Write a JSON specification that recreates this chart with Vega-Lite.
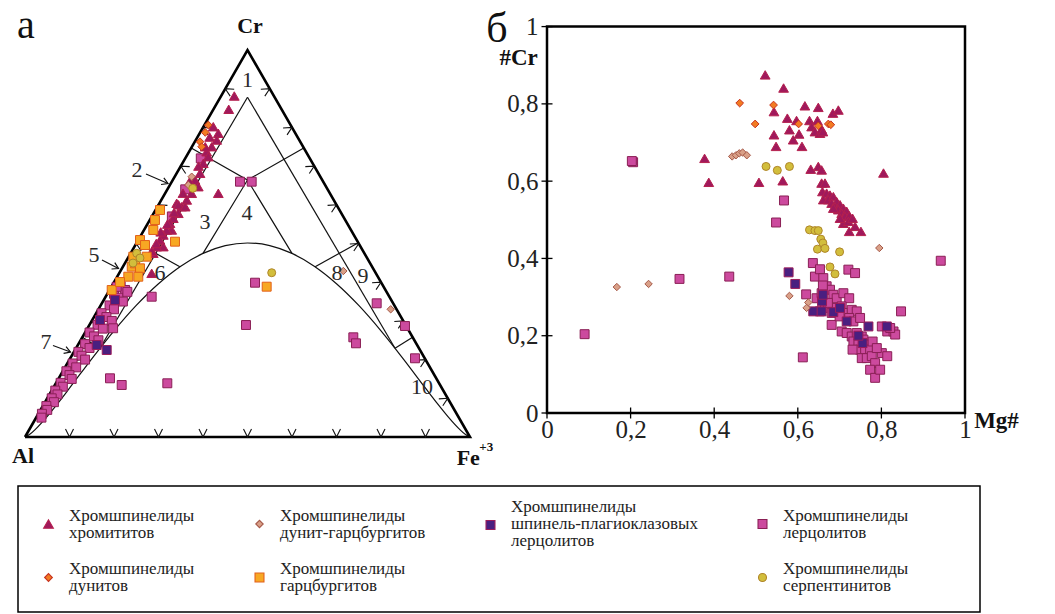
{
"$schema":"https://vega.github.io/schema/vega-lite/v6.json",
"padding":0,
"background":"white",
"bounds":"full",
"spacing":15,
"config":{"view":{"stroke":null},"font":"Liberation Serif"},
"datasets":{
"tri":[{"o":0,"x":0,"y":0},{"o":1,"x":0.5,"y":1},{"o":2,"x":1,"y":0},{"o":3,"x":0,"y":0}],
"fl":[
{"s":"a","o":0,"x":0.5,"y":0.878},{"s":"a","o":1,"x":0.1685,"y":0.2295},
{"s":"b","o":0,"x":0.5,"y":0.878},{"s":"b","o":1,"x":0.8315,"y":0.2295},
{"s":"c","o":0,"x":0.3735,"y":0.747},{"s":"c","o":1,"x":0.5,"y":0.664},{"s":"c","o":2,"x":0.6265,"y":0.747},
{"s":"d","o":0,"x":0.4,"y":0.4744},{"s":"d","o":1,"x":0.5,"y":0.664},{"s":"d","o":2,"x":0.6,"y":0.4744},
{"s":"e","o":0,"x":0.251,"y":0.502},{"s":"e","o":1,"x":0.348,"y":0.4398},
{"s":"f","o":0,"x":0.749,"y":0.502},{"s":"f","o":1,"x":0.652,"y":0.4398},
{"s":"g","o":0,"x":0.129,"y":0.258},{"s":"g","o":1,"x":0.1685,"y":0.2295},
{"s":"h","o":0,"x":0.871,"y":0.258},{"s":"h","o":1,"x":0.8315,"y":0.2295}],
"curve":[{"x":0,"y":0},{"x":0.01,"y":0.0064},{"x":0.025,"y":0.0217},{"x":0.05,"y":0.0533},{"x":0.075,"y":0.0888},{"x":0.1,"y":0.1262},{"x":0.15,"y":0.2021},{"x":0.2,"y":0.2744},{"x":0.25,"y":0.34},{"x":0.3,"y":0.3961},{"x":0.35,"y":0.4414},{"x":0.4,"y":0.4744},{"x":0.45,"y":0.4946},{"x":0.5,"y":0.5013},{"x":0.55,"y":0.4946},{"x":0.6,"y":0.4744},{"x":0.65,"y":0.4414},{"x":0.7,"y":0.3961},{"x":0.75,"y":0.34},{"x":0.8,"y":0.2744},{"x":0.85,"y":0.2021},{"x":0.9,"y":0.1262},{"x":0.925,"y":0.0888},{"x":0.95,"y":0.0533},{"x":0.975,"y":0.0217},{"x":0.99,"y":0.0064},{"x":1,"y":0}],
"tk":[
{"e":"b","x":0.1,"y":0},{"e":"b","x":0.2,"y":0},{"e":"b","x":0.3,"y":0},{"e":"b","x":0.4,"y":0},{"e":"b","x":0.5,"y":0},{"e":"b","x":0.6,"y":0},{"e":"b","x":0.7,"y":0},{"e":"b","x":0.8,"y":0},{"e":"b","x":0.9,"y":0},
{"e":"l","x":0.05,"y":0.1},{"e":"l","x":0.1,"y":0.2},{"e":"l","x":0.15,"y":0.3},{"e":"l","x":0.2,"y":0.4},{"e":"l","x":0.25,"y":0.5},{"e":"l","x":0.3,"y":0.6},{"e":"l","x":0.35,"y":0.7},{"e":"l","x":0.4,"y":0.8},{"e":"l","x":0.45,"y":0.9},
{"e":"r","x":0.95,"y":0.1},{"e":"r","x":0.9,"y":0.2},{"e":"r","x":0.85,"y":0.3},{"e":"r","x":0.8,"y":0.4},{"e":"r","x":0.75,"y":0.5},{"e":"r","x":0.7,"y":0.6},{"e":"r","x":0.65,"y":0.7},{"e":"r","x":0.6,"y":0.8},{"e":"r","x":0.55,"y":0.9}],
"ar":[
{"a":"2","o":0,"x":0.2719,"y":0.6796},{"a":"2","o":1,"x":0.3213,"y":0.655},
{"a":"5","o":0,"x":0.173,"y":0.4574},{"a":"5","o":1,"x":0.2101,"y":0.4354},
{"a":"7","o":0,"x":0.0629,"y":0.2364},{"a":"7","o":1,"x":0.1022,"y":0.2196}],
"tlab":[
{"k":"n","s":"1","x":0.5,"y":0.9225},{"k":"n","s":"2","x":0.2517,"y":0.6899},{"k":"n","s":"3","x":0.4045,"y":0.5556},{"k":"n","s":"4","x":0.4989,"y":0.5788},{"k":"n","s":"5","x":0.155,"y":0.4703},{"k":"n","s":"6","x":0.3034,"y":0.4238},{"k":"n","s":"7","x":0.0472,"y":0.2455},{"k":"n","s":"8","x":0.7011,"y":0.4238},{"k":"n","s":"9","x":0.7596,"y":0.416},{"k":"n","s":"10","x":0.8921,"y":0.1292},
{"k":"v","s":"Cr","x":0.5056,"y":1.044},{"k":"v","s":"Al","x":-0.0045,"y":-0.0672},
{"k":"f","s":"Fe","x":0.97,"y":-0.0725},{"k":"p","s":"+3","x":1.021,"y":-0.037},
{"k":"a","s":"а","x":0.0022,"y":1.031}],
"tern":[
{"t":"лерцолитов","x":0.215,"y":0.39},{"t":"лерцолитов","x":0.225,"y":0.38},{"t":"лерцолитов","x":0.2,"y":0.37},{"t":"лерцолитов","x":0.21,"y":0.36},{"t":"лерцолитов","x":0.22,"y":0.35},{"t":"лерцолитов","x":0.19,"y":0.34},{"t":"лерцолитов","x":0.2,"y":0.33},{"t":"лерцолитов","x":0.172,"y":0.32},{"t":"лерцолитов","x":0.183,"y":0.31},{"t":"лерцолитов","x":0.195,"y":0.3},{"t":"лерцолитов","x":0.163,"y":0.29},{"t":"лерцолитов","x":0.175,"y":0.28},{"t":"лерцолитов","x":0.145,"y":0.27},{"t":"лерцолитов","x":0.155,"y":0.26},{"t":"лерцолитов","x":0.165,"y":0.25},{"t":"лерцолитов","x":0.135,"y":0.24},{"t":"лерцолитов","x":0.145,"y":0.23},{"t":"лерцолитов","x":0.12,"y":0.22},{"t":"лерцолитов","x":0.127,"y":0.21},{"t":"лерцолитов","x":0.135,"y":0.2},{"t":"лерцолитов","x":0.107,"y":0.19},{"t":"лерцолитов","x":0.115,"y":0.18},{"t":"лерцолитов","x":0.093,"y":0.17},{"t":"лерцолитов","x":0.1,"y":0.16},{"t":"лерцолитов","x":0.105,"y":0.15},{"t":"лерцолитов","x":0.08,"y":0.14},{"t":"лерцолитов","x":0.085,"y":0.13},{"t":"лерцолитов","x":0.068,"y":0.12},{"t":"лерцолитов","x":0.073,"y":0.11},{"t":"лерцолитов","x":0.06,"y":0.1},{"t":"лерцолитов","x":0.065,"y":0.09},{"t":"лерцолитов","x":0.048,"y":0.08},{"t":"лерцолитов","x":0.05,"y":0.07},{"t":"лерцолитов","x":0.038,"y":0.06},{"t":"лерцолитов","x":0.037,"y":0.05},{"t":"лерцолитов","x":0.206,"y":0.388},{"t":"лерцолитов","x":0.198,"y":0.281},{"t":"лерцолитов","x":0.23,"y":0.375},
{"t":"лерцолитов","x":0.4831,"y":0.6597},{"t":"лерцолитов","x":0.5094,"y":0.6597},{"t":"лерцолитов","x":0.2847,"y":0.3625},{"t":"лерцолитов","x":0.5169,"y":0.3987},{"t":"лерцолитов","x":0.4966,"y":0.2894},{"t":"лерцолитов","x":0.191,"y":0.1517},{"t":"лерцолитов","x":0.2173,"y":0.1344},{"t":"лерцолитов","x":0.3198,"y":0.1388},{"t":"лерцолитов","x":0.7378,"y":0.2576},{"t":"лерцолитов","x":0.7438,"y":0.2421},{"t":"лерцолитов","x":0.7903,"y":0.3455},{"t":"лерцолитов","x":0.8539,"y":0.2868},{"t":"лерцолитов","x":0.8764,"y":0.2034},{"t":"лерцолитов","x":0.395,"y":0.72},{"t":"лерцолитов","x":0.36,"y":0.64},{"t":"лерцолитов","x":0.33,"y":0.57},
{"t":"шпинель-плагиоклазовых лерцолитов","x":0.1836,"y":0.2248},{"t":"шпинель-плагиоклазовых лерцолитов","x":0.1611,"y":0.2377},{"t":"шпинель-плагиоклазовых лерцолитов","x":0.1685,"y":0.3023},{"t":"шпинель-плагиоклазовых лерцолитов","x":0.2022,"y":0.354},
{"t":"хромититов","x":0.4703,"y":0.8811},{"t":"хромититов","x":0.4578,"y":0.8468},{"t":"хромититов","x":0.4344,"y":0.6297},{"t":"хромититов","x":0.4231,"y":0.8018},{"t":"хромититов","x":0.4344,"y":0.7848},{"t":"хромититов","x":0.4308,"y":0.7674},{"t":"хромититов","x":0.4196,"y":0.7501},{"t":"хромититов","x":0.4083,"y":0.7372},{"t":"хромититов","x":0.4119,"y":0.7243},{"t":"хромититов","x":0.4007,"y":0.7072},{"t":"хромититов","x":0.3933,"y":0.6814},{"t":"хромититов","x":0.382,"y":0.6641},{"t":"хромититов","x":0.3894,"y":0.6468},{"t":"хромититов","x":0.3746,"y":0.6297},{"t":"хромититов","x":0.3634,"y":0.6124},{"t":"хромититов","x":0.3521,"y":0.5951},{"t":"хромититов","x":0.3445,"y":0.578},{"t":"хромититов","x":0.3409,"y":0.6039},{"t":"хромититов","x":0.3333,"y":0.5651},{"t":"хромититов","x":0.3258,"y":0.5522},{"t":"хромититов","x":0.3297,"y":0.5349},{"t":"хромититов","x":0.3184,"y":0.5349},{"t":"хромититов","x":0.3108,"y":0.522},{"t":"хромититов","x":0.3034,"y":0.509},{"t":"хромититов","x":0.3108,"y":0.4917},{"t":"хромититов","x":0.296,"y":0.4917},{"t":"хромититов","x":0.2883,"y":0.4747},{"t":"хромититов","x":0.2847,"y":0.423},{"t":"хромититов","x":0.405,"y":0.75},{"t":"хромититов","x":0.39,"y":0.7},{"t":"хромититов","x":0.37,"y":0.66},{"t":"хромититов","x":0.355,"y":0.63},{"t":"хромититов","x":0.345,"y":0.6},{"t":"хромититов","x":0.335,"y":0.58},{"t":"хромититов","x":0.32,"y":0.55},{"t":"хромититов","x":0.305,"y":0.53},{"t":"хромититов","x":0.295,"y":0.5},{"t":"хромититов","x":0.285,"y":0.48},{"t":"хромититов","x":0.415,"y":0.775},{"t":"хромититов","x":0.36,"y":0.595},
{"t":"гарцбургитов","x":0.3034,"y":0.5866},{"t":"гарцбургитов","x":0.2921,"y":0.5607},{"t":"гарцбургитов","x":0.2883,"y":0.5349},{"t":"гарцбургитов","x":0.3371,"y":0.5047},{"t":"гарцбургитов","x":0.2584,"y":0.509},{"t":"гарцбургитов","x":0.2398,"y":0.4401},{"t":"гарцбургитов","x":0.2472,"y":0.4488},{"t":"гарцбургитов","x":0.2584,"y":0.4359},{"t":"гарцбургитов","x":0.2546,"y":0.4142},{"t":"гарцбургитов","x":0.2321,"y":0.4142},{"t":"гарцбургитов","x":0.2434,"y":0.4659},{"t":"гарцбургитов","x":0.2735,"y":0.4659},{"t":"гарцбургитов","x":0.5431,"y":0.3884},{"t":"гарцбургитов","x":0.1948,"y":0.3798},{"t":"гарцбургитов","x":0.2697,"y":0.4961},{"t":"гарцбургитов","x":0.2135,"y":0.4005},
{"t":"дунитов","x":0.4119,"y":0.8062},{"t":"дунитов","x":0.3933,"y":0.763},{"t":"дунитов","x":0.3971,"y":0.7501},{"t":"дунитов","x":0.405,"y":0.787},
{"t":"дунит-гарцбургитов","x":0.3746,"y":0.6726},{"t":"дунит-гарцбургитов","x":0.367,"y":0.6512},{"t":"дунит-гарцбургитов","x":0.7153,"y":0.4289},{"t":"дунит-гарцбургитов","x":0.8218,"y":0.33},
{"t":"серпентинитов","x":0.3769,"y":0.6426},{"t":"серпентинитов","x":0.251,"y":0.4747},{"t":"серпентинитов","x":0.2584,"y":0.4625},{"t":"серпентинитов","x":0.5544,"y":0.4245},{"t":"серпентинитов","x":0.2427,"y":0.4496}],
"scat":[
{"t":"лерцолитов","x":0.206,"y":0.649},{"t":"лерцолитов","x":0.203,"y":0.652},{"t":"лерцолитов","x":0.09,"y":0.204},{"t":"лерцолитов","x":0.317,"y":0.347},{"t":"лерцолитов","x":0.436,"y":0.353},{"t":"лерцолитов","x":0.567,"y":0.55},{"t":"лерцолитов","x":0.548,"y":0.493},{"t":"лерцолитов","x":0.942,"y":0.394},{"t":"лерцолитов","x":0.847,"y":0.263},{"t":"лерцолитов","x":0.612,"y":0.144},{"t":"лерцолитов","x":0.636,"y":0.388},{"t":"лерцолитов","x":0.641,"y":0.353},{"t":"лерцолитов","x":0.653,"y":0.372},{"t":"лерцолитов","x":0.661,"y":0.349},{"t":"лерцолитов","x":0.721,"y":0.371},{"t":"лерцолитов","x":0.737,"y":0.362},{"t":"лерцолитов","x":0.62,"y":0.307},{"t":"лерцолитов","x":0.645,"y":0.297},{"t":"лерцолитов","x":0.657,"y":0.31},{"t":"лерцолитов","x":0.669,"y":0.328},{"t":"лерцолитов","x":0.677,"y":0.319},{"t":"лерцолитов","x":0.685,"y":0.306},{"t":"лерцолитов","x":0.693,"y":0.297},{"t":"лерцолитов","x":0.709,"y":0.31},{"t":"лерцолитов","x":0.723,"y":0.297},{"t":"лерцолитов","x":0.653,"y":0.263},{"t":"лерцолитов","x":0.665,"y":0.272},{"t":"лерцолитов","x":0.681,"y":0.259},{"t":"лерцолитов","x":0.693,"y":0.272},{"t":"лерцолитов","x":0.705,"y":0.276},{"t":"лерцолитов","x":0.717,"y":0.259},{"t":"лерцолитов","x":0.729,"y":0.267},{"t":"лерцолитов","x":0.741,"y":0.263},{"t":"лерцолитов","x":0.723,"y":0.246},{"t":"лерцолитов","x":0.733,"y":0.237},{"t":"лерцолитов","x":0.749,"y":0.246},{"t":"лерцолитов","x":0.705,"y":0.211},{"t":"лерцолитов","x":0.717,"y":0.207},{"t":"лерцолитов","x":0.729,"y":0.198},{"t":"лерцолитов","x":0.741,"y":0.207},{"t":"лерцолитов","x":0.753,"y":0.198},{"t":"лерцолитов","x":0.733,"y":0.185},{"t":"лерцолитов","x":0.745,"y":0.181},{"t":"лерцолитов","x":0.757,"y":0.19},{"t":"лерцолитов","x":0.765,"y":0.177},{"t":"лерцолитов","x":0.749,"y":0.164},{"t":"лерцолитов","x":0.761,"y":0.164},{"t":"лерцолитов","x":0.773,"y":0.164},{"t":"лерцолитов","x":0.779,"y":0.185},{"t":"лерцолитов","x":0.753,"y":0.142},{"t":"лерцолитов","x":0.765,"y":0.142},{"t":"лерцолитов","x":0.777,"y":0.147},{"t":"лерцолитов","x":0.785,"y":0.129},{"t":"лерцолитов","x":0.773,"y":0.112},{"t":"лерцолитов","x":0.785,"y":0.091},{"t":"лерцолитов","x":0.797,"y":0.112},{"t":"лерцолитов","x":0.801,"y":0.155},{"t":"лерцолитов","x":0.814,"y":0.147},{"t":"лерцолитов","x":0.801,"y":0.224},{"t":"лерцолитов","x":0.814,"y":0.211},{"t":"лерцолитов","x":0.829,"y":0.211},{"t":"лерцолитов","x":0.833,"y":0.203},{"t":"лерцолитов","x":0.821,"y":0.22},{"t":"лерцолитов","x":0.789,"y":0.168},{"t":"лерцолитов","x":0.681,"y":0.228},{"t":"лерцолитов","x":0.731,"y":0.164},{"t":"лерцолитов","x":0.66,"y":0.33},{"t":"лерцолитов","x":0.672,"y":0.285},{"t":"лерцолитов","x":0.7,"y":0.25},
{"t":"шпинель-плагиоклазовых лерцолитов","x":0.578,"y":0.364},{"t":"шпинель-плагиоклазовых лерцолитов","x":0.594,"y":0.334},{"t":"шпинель-плагиоклазовых лерцолитов","x":0.637,"y":0.263},{"t":"шпинель-плагиоклазовых лерцолитов","x":0.685,"y":0.261},{"t":"шпинель-плагиоклазовых лерцолитов","x":0.658,"y":0.289},{"t":"шпинель-плагиоклазовых лерцолитов","x":0.657,"y":0.263},{"t":"шпинель-плагиоклазовых лерцолитов","x":0.717,"y":0.237},{"t":"шпинель-плагиоклазовых лерцолитов","x":0.701,"y":0.272},{"t":"шпинель-плагиоклазовых лерцолитов","x":0.769,"y":0.224},{"t":"шпинель-плагиоклазовых лерцолитов","x":0.813,"y":0.224},{"t":"шпинель-плагиоклазовых лерцолитов","x":0.755,"y":0.181},{"t":"шпинель-плагиоклазовых лерцолитов","x":0.66,"y":0.306},{"t":"шпинель-плагиоклазовых лерцолитов","x":0.745,"y":0.2},
{"t":"дунит-гарцбургитов","x":0.443,"y":0.664},{"t":"дунит-гарцбургитов","x":0.452,"y":0.667},{"t":"дунит-гарцбургитов","x":0.46,"y":0.672},{"t":"дунит-гарцбургитов","x":0.468,"y":0.674},{"t":"дунит-гарцбургитов","x":0.478,"y":0.667},{"t":"дунит-гарцбургитов","x":0.795,"y":0.427},{"t":"дунит-гарцбургитов","x":0.58,"y":0.303},{"t":"дунит-гарцбургитов","x":0.625,"y":0.286},{"t":"дунит-гарцбургитов","x":0.621,"y":0.272},{"t":"дунит-гарцбургитов","x":0.167,"y":0.326},{"t":"дунит-гарцбургитов","x":0.243,"y":0.334},
{"t":"серпентинитов","x":0.524,"y":0.638},{"t":"серпентинитов","x":0.551,"y":0.628},{"t":"серпентинитов","x":0.58,"y":0.638},{"t":"серпентинитов","x":0.628,"y":0.474},{"t":"серпентинитов","x":0.641,"y":0.472},{"t":"серпентинитов","x":0.649,"y":0.472},{"t":"серпентинитов","x":0.655,"y":0.45},{"t":"серпентинитов","x":0.66,"y":0.44},{"t":"серпентинитов","x":0.647,"y":0.424},{"t":"серпентинитов","x":0.665,"y":0.426},{"t":"серпентинитов","x":0.7,"y":0.417},{"t":"серпентинитов","x":0.677,"y":0.378},{"t":"серпентинитов","x":0.689,"y":0.36},
{"t":"хромититов","x":0.522,"y":0.875},{"t":"хромититов","x":0.566,"y":0.841},{"t":"хромититов","x":0.543,"y":0.78},{"t":"хромититов","x":0.543,"y":0.72},{"t":"хромититов","x":0.548,"y":0.69},{"t":"хромититов","x":0.575,"y":0.763},{"t":"хромититов","x":0.58,"y":0.733},{"t":"хромититов","x":0.589,"y":0.707},{"t":"хромититов","x":0.597,"y":0.757},{"t":"хромититов","x":0.603,"y":0.722},{"t":"хромититов","x":0.61,"y":0.69},{"t":"хромититов","x":0.617,"y":0.795},{"t":"хромититов","x":0.628,"y":0.757},{"t":"хромититов","x":0.649,"y":0.791},{"t":"хромититов","x":0.633,"y":0.741},{"t":"хромититов","x":0.641,"y":0.728},{"t":"хромититов","x":0.653,"y":0.724},{"t":"хромититов","x":0.684,"y":0.776},{"t":"хромититов","x":0.697,"y":0.784},{"t":"хромититов","x":0.647,"y":0.757},{"t":"хромититов","x":0.377,"y":0.659},{"t":"хромититов","x":0.387,"y":0.597},{"t":"хромититов","x":0.507,"y":0.597},{"t":"хромититов","x":0.564,"y":0.601},{"t":"хромититов","x":0.631,"y":0.631},{"t":"хромититов","x":0.649,"y":0.638},{"t":"хромититов","x":0.657,"y":0.629},{"t":"хромититов","x":0.805,"y":0.621},{"t":"хромититов","x":0.657,"y":0.595},{"t":"хромититов","x":0.665,"y":0.595},{"t":"хромититов","x":0.659,"y":0.573},{"t":"хромититов","x":0.669,"y":0.569},{"t":"хромититов","x":0.677,"y":0.564},{"t":"хромититов","x":0.661,"y":0.552},{"t":"хромититов","x":0.673,"y":0.552},{"t":"хромититов","x":0.685,"y":0.56},{"t":"хромититов","x":0.681,"y":0.543},{"t":"хромититов","x":0.693,"y":0.547},{"t":"хромититов","x":0.689,"y":0.534},{"t":"хромититов","x":0.701,"y":0.539},{"t":"хромититов","x":0.697,"y":0.526},{"t":"хромититов","x":0.709,"y":0.53},{"t":"хромититов","x":0.705,"y":0.517},{"t":"хромититов","x":0.717,"y":0.522},{"t":"хромититов","x":0.713,"y":0.509},{"t":"хромититов","x":0.723,"y":0.51},{"t":"хромититов","x":0.709,"y":0.491},{"t":"хромититов","x":0.721,"y":0.496},{"t":"хромититов","x":0.723,"y":0.47},{"t":"хромититов","x":0.737,"y":0.483},{"t":"хромититов","x":0.751,"y":0.47},{"t":"хромититов","x":0.731,"y":0.504},{"t":"хромититов","x":0.685,"y":0.53},{"t":"хромититов","x":0.701,"y":0.504},{"t":"хромититов","x":0.657,"y":0.735},{"t":"хромититов","x":0.66,"y":0.728},
{"t":"дунитов","x":0.461,"y":0.802},{"t":"дунитов","x":0.542,"y":0.797},{"t":"дунитов","x":0.498,"y":0.748},{"t":"дунитов","x":0.602,"y":0.748},{"t":"дунитов","x":0.649,"y":0.743},{"t":"дунитов","x":0.673,"y":0.748},{"t":"дунитов","x":0.679,"y":0.746}],
"tv":[{"v":0},{"v":0.2},{"v":0.4},{"v":0.6},{"v":0.8},{"v":1}],
"slab":[{"k":"b","s":"#Cr","x":-0.068,"y":0.9175},{"k":"b","s":"Mg#","x":1.0754,"y":-0.0212},{"k":"a","s":"б","x":-0.12,"y":0.96}]
},
"vconcat":[
{"hconcat":[
{
"width":547,"height":413,
"encoding":{
"x":{"field":"x","type":"quantitative","scale":{"domain":[-0.05618,1.17303],"nice":false,"zero":false},"axis":null},
"y":{"field":"y","type":"quantitative","scale":{"domain":[0.06202,1.1292],"nice":false,"zero":false},"axis":null}},
"resolve":{"scale":{"angle":"independent"}},
"layer":[
{"data":{"name":"fl"},"mark":{"type":"line","stroke":"#111","strokeWidth":1.2},"encoding":{"detail":{"field":"s"},"order":{"field":"o"}}},
{"data":{"name":"curve"},"mark":{"type":"line","stroke":"#111","strokeWidth":1.2,"interpolate":"monotone"},"encoding":{}},
{"data":{"name":"tri"},"mark":{"type":"line","stroke":"#000","strokeWidth":2.6,"strokeJoin":"miter"},"encoding":{"order":{"field":"o"}}},
{"data":{"name":"tk"},"mark":{"type":"point","shape":"M-0.5,-1L0,0L0.5,-1","filled":false,"size":256,"stroke":"#111","strokeWidth":1.1,"opacity":1},"encoding":{"angle":{"field":"e","type":"nominal","scale":{"type":"ordinal","domain":["b","l","r"],"range":[0,120,240]},"legend":null}}},
{"data":{"name":"ar"},"mark":{"type":"line","stroke":"#111","strokeWidth":1.2},"encoding":{"detail":{"field":"a"},"order":{"field":"o"}}},
{"data":{"name":"ar"},"transform":[{"filter":"datum.o == 1"}],"mark":{"type":"point","shape":"M-1,-0.6L0,0L-1,0.6","filled":false,"size":144,"stroke":"#111","strokeWidth":1.2,"opacity":1},"encoding":{"angle":{"field":"a","type":"nominal","scale":{"type":"ordinal","domain":["2","5","7"],"range":[23,27,20]},"legend":null}}},
{"data":{"name":"tern"},"mark":{"type":"point","filled":true,"opacity":1,"strokeWidth":1},"encoding":{
"color":{"field":"t","type":"nominal","scale":{"domain":["хромититов","дунит-гарцбургитов","шпинель-плагиоклазовых лерцолитов","лерцолитов","дунитов","гарцбургитов","_","серпентинитов"],"range":["#A0195C","#D9A088","#4A1F80","#CC4A9E","#F27B22","#F7A823","#ffffff","#D2BE3C"]},
"legend":{"title":null,"orient":"none","legendX":18,"legendY":485,"columns":4,"direction":"horizontal","gridAlign":"each","columnPadding":56,"rowPadding":11,"padding":22,"symbolSize":30,"symbolStrokeWidth":1.1,"symbolOpacity":1,"labelFont":"Liberation Serif","labelFontSize":17,"labelColor":"#222","labelLimit":0,"labelOffset":12,"labelExpr":"datum.label == '_' ? '' : datum.label == 'шпинель-плагиоклазовых лерцолитов' ? ['Хромшпинелиды', 'шпинель-плагиоклазовых', 'лерцолитов'] : ['Хромшпинелиды', datum.label]",
"encode":{"labels":{"update":{"lineHeight":{"value":17},"y":{"value":0}}},"symbols":{"update":{"size":{"value":32},"y":{"signal":"datum.value == 'шпинель-плагиоклазовых лерцолитов' ? 18 : 8.5"}}}}}},
"shape":{"field":"t","type":"nominal","scale":{"domain":["хромититов","дунит-гарцбургитов","шпинель-плагиоклазовых лерцолитов","лерцолитов","дунитов","гарцбургитов","_","серпентинитов"],"range":["triangle-up","diamond","square","square","diamond","square","circle","circle"]}},
"stroke":{"field":"t","type":"nominal","scale":{"domain":["хромититов","дунит-гарцбургитов","шпинель-плагиоклазовых лерцолитов","лерцолитов","дунитов","гарцбургитов","_","серпентинитов"],"range":["#B5204E","#A65A4A","#9C1C5A","#8A1F55","#C8321F","#E2601A","#ffffff","#B0862A"]}},
"size":{"field":"t","type":"nominal","scale":{"type":"ordinal","domain":["хромититов","дунит-гарцбургитов","шпинель-плагиоклазовых лерцолитов","лерцолитов","дунитов","гарцбургитов","_","серпентинитов"],"range":[95,55,80,80,60,80,10,64]},"legend":null}}},
{"data":{"name":"tlab"},"transform":[{"filter":"datum.k == 'n'"}],"mark":{"type":"text","font":"Liberation Serif","fontSize":22,"color":"#2a2a2a"},"encoding":{"text":{"field":"s"}}},
{"data":{"name":"tlab"},"transform":[{"filter":"datum.k == 'v'"}],"mark":{"type":"text","font":"Liberation Serif","fontSize":22,"fontWeight":"bold","baseline":"alphabetic","color":"#111"},"encoding":{"text":{"field":"s"}}},
{"data":{"name":"tlab"},"transform":[{"filter":"datum.k == 'f'"}],"mark":{"type":"text","font":"Liberation Serif","fontSize":22,"fontWeight":"bold","baseline":"alphabetic","align":"left","color":"#111"},"encoding":{"text":{"field":"s"}}},
{"data":{"name":"tlab"},"transform":[{"filter":"datum.k == 'p'"}],"mark":{"type":"text","font":"Liberation Serif","fontSize":13,"fontWeight":"bold","baseline":"alphabetic","align":"left","color":"#111"},"encoding":{"text":{"field":"s"}}},
{"data":{"name":"tlab"},"transform":[{"filter":"datum.k == 'a'"}],"mark":{"type":"text","font":"Liberation Serif","fontSize":40,"baseline":"alphabetic","color":"#111"},"encoding":{"text":{"field":"s"}}}
]
},
{
"width":418,"height":413,
"layer":[
{"data":{"values":[{}]},"mark":{"type":"rect","fill":"transparent","stroke":"#000","strokeWidth":2.5},"encoding":{
"x":{"datum":0,"type":"quantitative","scale":{"domain":[0,1],"nice":false,"zero":false},"axis":{"values":[0,0.2,0.4,0.6,0.8,1],"ticks":false,"tickSize":0,"domain":false,"grid":false,"title":null,"labelFont":"Liberation Serif","labelFontSize":25,"labelColor":"#222","labelPadding":4,"labelFlush":false,"labelOverlap":false,"labelExpr":"datum.value == 0 ? '0' : datum.value == 1 ? '1' : replace(format(datum.value, '.1f'), '.', ',')"}},"x2":{"datum":1},
"y":{"datum":0,"type":"quantitative","scale":{"domain":[0,1.0688],"nice":false,"zero":false},"axis":{"values":[0,0.2,0.4,0.6,0.8,1],"ticks":false,"tickSize":0,"domain":false,"grid":false,"title":null,"labelFont":"Liberation Serif","labelFontSize":25,"labelColor":"#222","labelPadding":9,"labelFlush":false,"labelOverlap":false,"labelExpr":"datum.value == 0 ? '0' : datum.value == 1 ? '1' : replace(format(datum.value, '.1f'), '.', ',')"}},"y2":{"datum":1}}},
{"data":{"name":"tv"},"mark":{"type":"tick","orient":"vertical","size":11,"thickness":1.3,"color":"#000","opacity":1},"encoding":{
"x":{"field":"v","type":"quantitative","scale":{"domain":[0,1],"nice":false,"zero":false},"axis":{"values":[0,0.2,0.4,0.6,0.8,1],"ticks":false,"tickSize":0,"domain":false,"grid":false,"title":null,"labelFont":"Liberation Serif","labelFontSize":25,"labelColor":"#222","labelPadding":4,"labelFlush":false,"labelOverlap":false,"labelExpr":"datum.value == 0 ? '0' : datum.value == 1 ? '1' : replace(format(datum.value, '.1f'), '.', ',')"}},
"y":{"datum":0,"type":"quantitative","scale":{"domain":[0,1.0688],"nice":false,"zero":false},"axis":{"values":[0,0.2,0.4,0.6,0.8,1],"ticks":false,"tickSize":0,"domain":false,"grid":false,"title":null,"labelFont":"Liberation Serif","labelFontSize":25,"labelColor":"#222","labelPadding":9,"labelFlush":false,"labelOverlap":false,"labelExpr":"datum.value == 0 ? '0' : datum.value == 1 ? '1' : replace(format(datum.value, '.1f'), '.', ',')"}}}},
{"data":{"name":"tv"},"mark":{"type":"tick","orient":"horizontal","size":11,"thickness":1.3,"color":"#000","opacity":1},"encoding":{
"y":{"field":"v","type":"quantitative","scale":{"domain":[0,1.0688],"nice":false,"zero":false},"axis":{"values":[0,0.2,0.4,0.6,0.8,1],"ticks":false,"tickSize":0,"domain":false,"grid":false,"title":null,"labelFont":"Liberation Serif","labelFontSize":25,"labelColor":"#222","labelPadding":9,"labelFlush":false,"labelOverlap":false,"labelExpr":"datum.value == 0 ? '0' : datum.value == 1 ? '1' : replace(format(datum.value, '.1f'), '.', ',')"}},
"x":{"datum":0,"type":"quantitative","scale":{"domain":[0,1],"nice":false,"zero":false},"axis":{"values":[0,0.2,0.4,0.6,0.8,1],"ticks":false,"tickSize":0,"domain":false,"grid":false,"title":null,"labelFont":"Liberation Serif","labelFontSize":25,"labelColor":"#222","labelPadding":4,"labelFlush":false,"labelOverlap":false,"labelExpr":"datum.value == 0 ? '0' : datum.value == 1 ? '1' : replace(format(datum.value, '.1f'), '.', ',')"}}}},
{"data":{"name":"scat"},"mark":{"type":"point","filled":true,"opacity":1,"strokeWidth":1},"encoding":{
"x":{"field":"x","type":"quantitative","scale":{"domain":[0,1],"nice":false,"zero":false},"axis":{"values":[0,0.2,0.4,0.6,0.8,1],"ticks":false,"tickSize":0,"domain":false,"grid":false,"title":null,"labelFont":"Liberation Serif","labelFontSize":25,"labelColor":"#222","labelPadding":4,"labelFlush":false,"labelOverlap":false,"labelExpr":"datum.value == 0 ? '0' : datum.value == 1 ? '1' : replace(format(datum.value, '.1f'), '.', ',')"}},
"y":{"field":"y","type":"quantitative","scale":{"domain":[0,1.0688],"nice":false,"zero":false},"axis":{"values":[0,0.2,0.4,0.6,0.8,1],"ticks":false,"tickSize":0,"domain":false,"grid":false,"title":null,"labelFont":"Liberation Serif","labelFontSize":25,"labelColor":"#222","labelPadding":9,"labelFlush":false,"labelOverlap":false,"labelExpr":"datum.value == 0 ? '0' : datum.value == 1 ? '1' : replace(format(datum.value, '.1f'), '.', ',')"}},
"color":{"field":"t","type":"nominal","scale":{"domain":["хромититов","дунит-гарцбургитов","шпинель-плагиоклазовых лерцолитов","лерцолитов","дунитов","гарцбургитов","_","серпентинитов"],"range":["#A0195C","#D9A088","#4A1F80","#CC4A9E","#F27B22","#F7A823","#ffffff","#D2BE3C"]},
"legend":{"title":null,"orient":"none","legendX":18,"legendY":485,"columns":4,"direction":"horizontal","gridAlign":"each","columnPadding":56,"rowPadding":11,"padding":22,"symbolSize":30,"symbolStrokeWidth":1.1,"symbolOpacity":1,"labelFont":"Liberation Serif","labelFontSize":17,"labelColor":"#222","labelLimit":0,"labelOffset":12,"labelExpr":"datum.label == '_' ? '' : datum.label == 'шпинель-плагиоклазовых лерцолитов' ? ['Хромшпинелиды', 'шпинель-плагиоклазовых', 'лерцолитов'] : ['Хромшпинелиды', datum.label]",
"encode":{"labels":{"update":{"lineHeight":{"value":17},"y":{"value":0}}},"symbols":{"update":{"size":{"value":32},"y":{"signal":"datum.value == 'шпинель-плагиоклазовых лерцолитов' ? 18 : 8.5"}}}}}},
"shape":{"field":"t","type":"nominal","scale":{"domain":["хромититов","дунит-гарцбургитов","шпинель-плагиоклазовых лерцолитов","лерцолитов","дунитов","гарцбургитов","_","серпентинитов"],"range":["triangle-up","diamond","square","square","diamond","square","circle","circle"]}},
"stroke":{"field":"t","type":"nominal","scale":{"domain":["хромититов","дунит-гарцбургитов","шпинель-плагиоклазовых лерцолитов","лерцолитов","дунитов","гарцбургитов","_","серпентинитов"],"range":["#B5204E","#A65A4A","#9C1C5A","#8A1F55","#C8321F","#E2601A","#ffffff","#B0862A"]}},
"size":{"field":"t","type":"nominal","scale":{"type":"ordinal","domain":["хромититов","дунит-гарцбургитов","шпинель-плагиоклазовых лерцолитов","лерцолитов","дунитов","гарцбургитов","_","серпентинитов"],"range":[95,55,80,80,60,80,10,64]},"legend":null}}},
{"data":{"name":"slab"},"transform":[{"filter":"datum.k == 'b'"}],"mark":{"type":"text","font":"Liberation Serif","fontSize":23,"fontWeight":"bold","color":"#111"},"encoding":{
"x":{"field":"x","type":"quantitative","scale":{"domain":[0,1],"nice":false,"zero":false},"axis":{"values":[0,0.2,0.4,0.6,0.8,1],"ticks":false,"tickSize":0,"domain":false,"grid":false,"title":null,"labelFont":"Liberation Serif","labelFontSize":25,"labelColor":"#222","labelPadding":4,"labelFlush":false,"labelOverlap":false,"labelExpr":"datum.value == 0 ? '0' : datum.value == 1 ? '1' : replace(format(datum.value, '.1f'), '.', ',')"}},
"y":{"field":"y","type":"quantitative","scale":{"domain":[0,1.0688],"nice":false,"zero":false},"axis":{"values":[0,0.2,0.4,0.6,0.8,1],"ticks":false,"tickSize":0,"domain":false,"grid":false,"title":null,"labelFont":"Liberation Serif","labelFontSize":25,"labelColor":"#222","labelPadding":9,"labelFlush":false,"labelOverlap":false,"labelExpr":"datum.value == 0 ? '0' : datum.value == 1 ? '1' : replace(format(datum.value, '.1f'), '.', ',')"}},
"text":{"field":"s"}}},
{"data":{"name":"slab"},"transform":[{"filter":"datum.k == 'a'"}],"mark":{"type":"text","font":"Liberation Serif","fontSize":42,"baseline":"alphabetic","color":"#111"},"encoding":{
"x":{"field":"x","type":"quantitative","scale":{"domain":[0,1],"nice":false,"zero":false},"axis":{"values":[0,0.2,0.4,0.6,0.8,1],"ticks":false,"tickSize":0,"domain":false,"grid":false,"title":null,"labelFont":"Liberation Serif","labelFontSize":25,"labelColor":"#222","labelPadding":4,"labelFlush":false,"labelOverlap":false,"labelExpr":"datum.value == 0 ? '0' : datum.value == 1 ? '1' : replace(format(datum.value, '.1f'), '.', ',')"}},
"y":{"field":"y","type":"quantitative","scale":{"domain":[0,1.0688],"nice":false,"zero":false},"axis":{"values":[0,0.2,0.4,0.6,0.8,1],"ticks":false,"tickSize":0,"domain":false,"grid":false,"title":null,"labelFont":"Liberation Serif","labelFontSize":25,"labelColor":"#222","labelPadding":9,"labelFlush":false,"labelOverlap":false,"labelExpr":"datum.value == 0 ? '0' : datum.value == 1 ? '1' : replace(format(datum.value, '.1f'), '.', ',')"}},
"text":{"field":"s"}}}
]
}
],"spacing":0,"bounds":"flush"},
{"hconcat":[
{"width":18,"height":10,"data":{"values":[{}]},"mark":{"type":"point","opacity":0},"encoding":{}},
{"width":962,"height":126,"view":{"stroke":"#000","strokeWidth":1.5},"data":{"values":[{}]},"mark":{"type":"point","opacity":0},"encoding":{}}
],"spacing":0,"bounds":"flush"}
]
}
